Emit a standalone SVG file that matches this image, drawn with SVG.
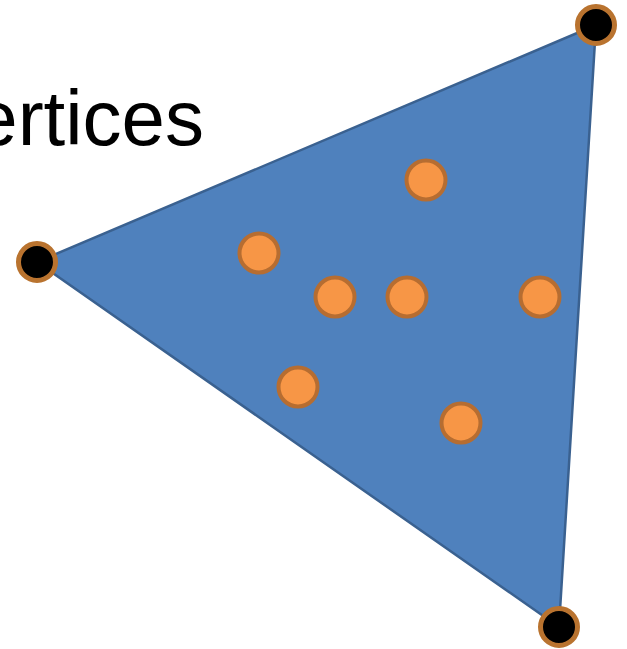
<svg xmlns="http://www.w3.org/2000/svg" width="627" height="649" viewBox="0 0 627 649">
<style>
.vert{fill:#000000;stroke:#B9732F;stroke-width:5}
.pt{fill:#F79646;stroke:#B66D31;stroke-width:4}
.lbl{font-family:"Liberation Sans",Arial,sans-serif;font-size:78px;fill:#000000}
</style>
<rect width="627" height="649" fill="#ffffff"/>
<text class="lbl" x="204" y="145" text-anchor="end">ertices</text>
<g id="triangle">
<polygon points="596,25 37,262 559,627" fill="#4F81BD" stroke="#3A6190" stroke-width="2.5" stroke-linejoin="round"/>
</g>
<g id="points">
<circle class="pt" cx="426" cy="180" r="19.5"/>
<circle class="pt" cx="259" cy="253" r="19.5"/>
<circle class="pt" cx="335" cy="297" r="19.5"/>
<circle class="pt" cx="407" cy="297" r="19.5"/>
<circle class="pt" cx="540" cy="297" r="19.5"/>
<circle class="pt" cx="298" cy="387" r="19.5"/>
<circle class="pt" cx="461" cy="423" r="19.5"/>
</g>
<g id="vertices">
<circle class="vert" cx="596" cy="25" r="18.5"/>
<circle class="vert" cx="37" cy="262" r="18.5"/>
<circle class="vert" cx="559" cy="627" r="18.5"/>
</g>
</svg>
